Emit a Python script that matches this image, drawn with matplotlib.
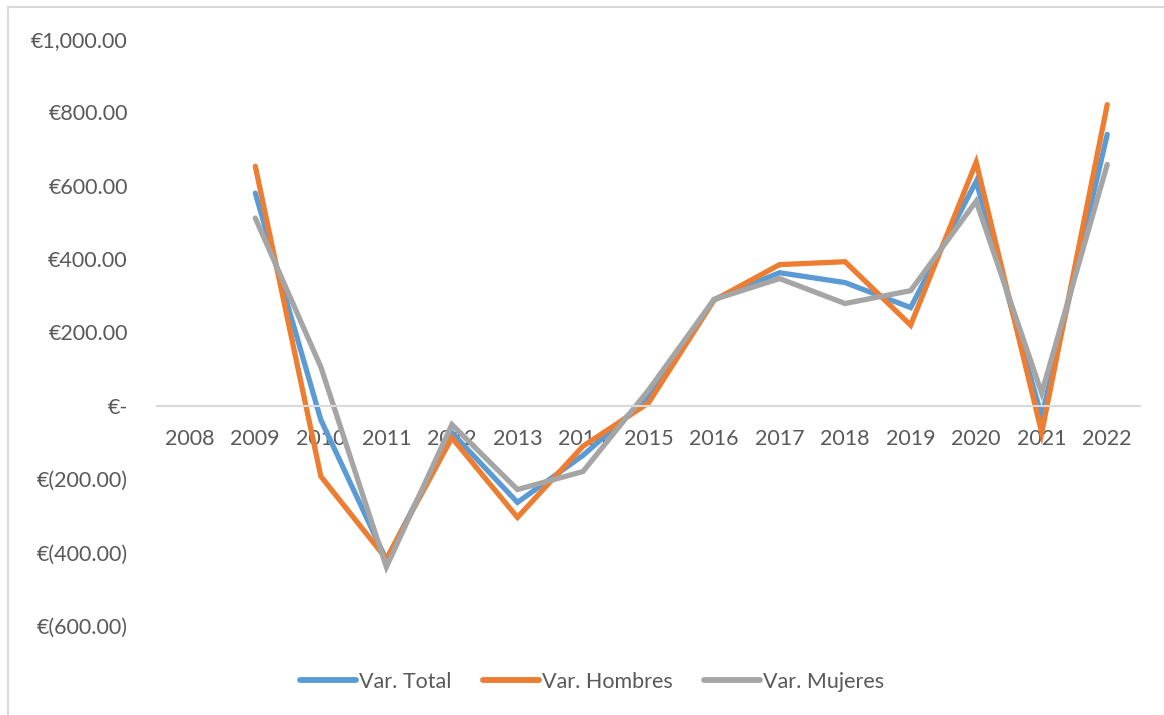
import matplotlib
matplotlib.use("Agg")
import matplotlib.pyplot as plt
from matplotlib.lines import Line2D
from matplotlib.ticker import FuncFormatter, MultipleLocator

# Data
years = ["2008", "2009", "2010", "2011", "2012", "2013", "2014", "2015",
         "2016", "2017", "2018", "2019", "2020", "2021", "2022"]
var_total = [None, 580, -38, -420, -73, -263, -135, 22,
             290, 363, 336, 268, 612, -30, 740]
var_hombres = [None, 653, -192, -417, -87, -304, -110, 8,
               288, 385, 393, 220, 664, -73, 821]
var_mujeres = [None, 512, 106, -439, -51, -228, -179, 43,
               290, 347, 279, 314, 558, 35, 658]

series = [("Var. Total", var_total, "#5B9BD5"),
          ("Var. Hombres", var_hombres, "#ED7D31"),
          ("Var. Mujeres", var_mujeres, "#A5A5A5")]

text_color = "#595959"
plt.rcParams['font.family'] = ['Lato', 'DejaVu Sans']

fig = plt.figure(figsize=(11.64, 7.15), dpi=100)
ax = fig.add_axes([157 / 1164, 1 - 626 / 715, 983 / 1164, 587 / 715])

x = list(range(len(years)))
for name, vals, color in series:
    xs = [i for i, v in zip(x, vals) if v is not None]
    ys = [v for v in vals if v is not None]
    ax.plot(xs, ys, color=color, lw=3.8, label=name,
            solid_capstyle='round', solid_joinstyle='miter')


def euro(v, pos):
    if abs(v) < 1e-9:
        return "€-"
    if v < 0:
        return "€({:,.2f})".format(-v)
    return "€{:,.2f}".format(v)


ax.set_xlim(-0.5, len(years) - 0.5)
ax.set_ylim(-600, 1000)
ax.yaxis.set_major_locator(MultipleLocator(200))
ax.yaxis.set_major_formatter(FuncFormatter(euro))
ax.set_xticks(x)
ax.set_xticklabels(years)

for s in ["top", "right", "left"]:
    ax.spines[s].set_visible(False)
ax.spines["bottom"].set_position(("data", 0))
ax.spines["bottom"].set_color("#D9D9D9")
ax.spines["bottom"].set_linewidth(1.5)
ax.tick_params(axis="x", length=0, pad=17, labelsize=15.5, labelcolor=text_color)
ax.tick_params(axis="y", length=0, pad=21, labelsize=15.5, labelcolor=text_color)
ax.set_zorder(1)
ax.patch.set_visible(False)

leg = fig.legend(loc="center", bbox_to_anchor=(592 / 1164, 1 - 682 / 715),
                 ncol=3, frameon=False, fontsize=15.5, labelcolor=text_color,
                 handlelength=2.6, handletextpad=0.15, columnspacing=1.45)
for h in leg.get_lines():
    h.set_linewidth(4.2)

# chart border (left and top only visible)
fig.add_artist(Line2D([8 / 1164, 8 / 1164], [0, 1 - 7 / 715],
                      color="#D9D9D9", lw=1.5))
fig.add_artist(Line2D([8 / 1164, 1], [1 - 7 / 715, 1 - 7 / 715],
                      color="#D9D9D9", lw=1.5))

fig.savefig("out.png", dpi=100)
